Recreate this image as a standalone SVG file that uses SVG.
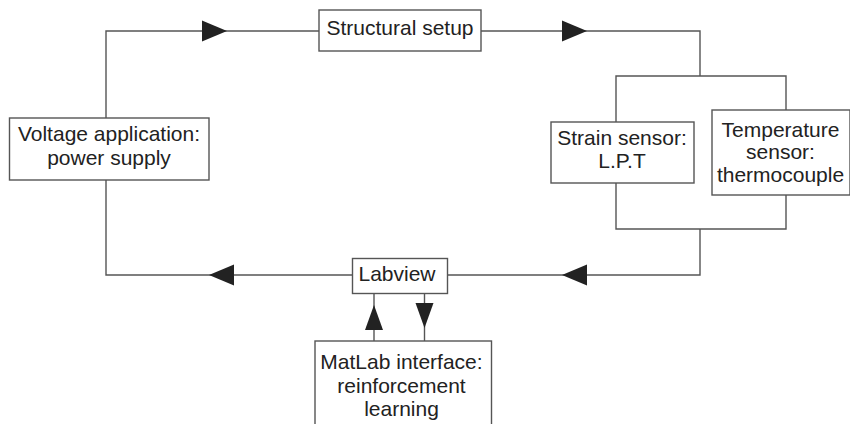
<svg xmlns="http://www.w3.org/2000/svg" xmlns:xlink="http://www.w3.org/1999/xlink" width="850" height="424" viewBox="0 0 850 424">
<style>
.box{fill:#fff;stroke:#555;stroke-width:1.4}
.ln{fill:none;stroke:#555;stroke-width:1.4}
.ah{fill:#222}
text{font-family:"Liberation Sans",Arial,sans-serif;font-size:21px;fill:#222;text-anchor:middle}
</style>
<defs>
<path id="arr" d="M0,0 L-25,-10.5 L-25,10.5 Z"/>
<path id="arrv" d="M0,0 L-25,-9 L-25,9 Z"/>
</defs>
<rect width="850" height="424" fill="#fff"/>
<g id="connectors">
<path class="ln" d="M106,118 V31 H319"/>
<path class="ln" d="M106,180 V275 H352.5"/>
<path class="ln" d="M481,31 H700 V76"/>
<path class="ln" d="M616,122 V76 H786 V110"/>
<path class="ln" d="M616,183 V229 H786 V195"/>
<path class="ln" d="M700,229 V275 H447.5"/>
<path class="ln" d="M374,293.5 V341"/>
<path class="ln" d="M424.5,293.5 V341"/>
<use href="#arr" class="ah" transform="translate(227,31)"/>
<use href="#arr" class="ah" transform="translate(587,31)"/>
<use href="#arr" class="ah" transform="translate(562,275) rotate(180)"/>
<use href="#arr" class="ah" transform="translate(209,275) rotate(180)"/>
<use href="#arrv" class="ah" transform="translate(374,305) rotate(-90)"/>
<use href="#arrv" class="ah" transform="translate(424.5,328) rotate(90)"/>
</g>
<g id="structural">
<rect class="box" x="319" y="10" width="162" height="41"/>
<text x="400" y="35">Structural setup</text>
</g>
<g id="voltage">
<rect class="box" x="9.5" y="118" width="199.5" height="62"/>
<text x="109" y="141">Voltage application:</text>
<text x="109" y="165">power supply</text>
</g>
<g id="strain">
<rect class="box" x="551" y="122" width="143" height="61"/>
<text x="622" y="145">Strain sensor:</text>
<text x="622" y="168">L.P.T</text>
</g>
<g id="temperature">
<rect class="box" x="712" y="110" width="138" height="85"/>
<text x="780.5" y="137">Temperature</text>
<text x="780.5" y="159">sensor:</text>
<text x="780.5" y="182">thermocouple</text>
</g>
<g id="labview">
<rect class="box" x="352.5" y="258.5" width="95" height="35"/>
<text x="397" y="281">Labview</text>
</g>
<g id="matlab">
<rect class="box" x="315" y="341" width="176.5" height="100"/>
<text x="401.5" y="369">MatLab interface:</text>
<text x="401.5" y="393">reinforcement</text>
<text x="401.5" y="416">learning</text>
</g>
</svg>
